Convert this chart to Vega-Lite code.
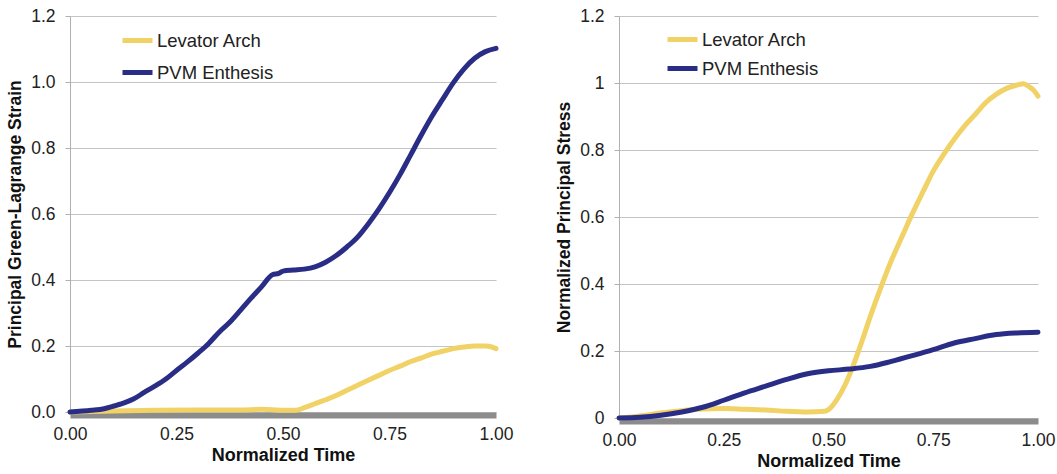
{
  "$schema": "https://vega.github.io/schema/vega-lite/v6.json",
  "padding": {"left": 6, "top": 7, "right": 0, "bottom": 0},
  "background": "white",
  "spacing": 41,
  "config": {
    "view": {"stroke": null},
    "font": "Liberation Sans",
    "axis": {"labelFont": "Liberation Sans", "titleFont": "Liberation Sans", "labelColor": "#222", "titleColor": "#111"}
  },
  "datasets": {
    "strain": [
      {"t": 0.0, "v": 0.0, "series": "Levator Arch"},
      {"t": 0.1, "v": 0.003, "series": "Levator Arch"},
      {"t": 0.2, "v": 0.005, "series": "Levator Arch"},
      {"t": 0.3, "v": 0.006, "series": "Levator Arch"},
      {"t": 0.4, "v": 0.006, "series": "Levator Arch"},
      {"t": 0.45, "v": 0.008, "series": "Levator Arch"},
      {"t": 0.5, "v": 0.005, "series": "Levator Arch"},
      {"t": 0.53, "v": 0.005, "series": "Levator Arch"},
      {"t": 0.55, "v": 0.013, "series": "Levator Arch"},
      {"t": 0.575, "v": 0.025, "series": "Levator Arch"},
      {"t": 0.6, "v": 0.037, "series": "Levator Arch"},
      {"t": 0.625, "v": 0.05, "series": "Levator Arch"},
      {"t": 0.65, "v": 0.066, "series": "Levator Arch"},
      {"t": 0.675, "v": 0.081, "series": "Levator Arch"},
      {"t": 0.7, "v": 0.096, "series": "Levator Arch"},
      {"t": 0.725, "v": 0.111, "series": "Levator Arch"},
      {"t": 0.75, "v": 0.126, "series": "Levator Arch"},
      {"t": 0.775, "v": 0.139, "series": "Levator Arch"},
      {"t": 0.8, "v": 0.153, "series": "Levator Arch"},
      {"t": 0.825, "v": 0.164, "series": "Levator Arch"},
      {"t": 0.85, "v": 0.176, "series": "Levator Arch"},
      {"t": 0.875, "v": 0.184, "series": "Levator Arch"},
      {"t": 0.9, "v": 0.192, "series": "Levator Arch"},
      {"t": 0.925, "v": 0.197, "series": "Levator Arch"},
      {"t": 0.95, "v": 0.2, "series": "Levator Arch"},
      {"t": 0.975, "v": 0.2, "series": "Levator Arch"},
      {"t": 0.99, "v": 0.197, "series": "Levator Arch"},
      {"t": 1.0, "v": 0.192, "series": "Levator Arch"},
      {"t": 0.0, "v": 0.0, "series": "PVM Enthesis"},
      {"t": 0.05, "v": 0.005, "series": "PVM Enthesis"},
      {"t": 0.08, "v": 0.01, "series": "PVM Enthesis"},
      {"t": 0.1, "v": 0.017, "series": "PVM Enthesis"},
      {"t": 0.125, "v": 0.027, "series": "PVM Enthesis"},
      {"t": 0.15, "v": 0.04, "series": "PVM Enthesis"},
      {"t": 0.175, "v": 0.06, "series": "PVM Enthesis"},
      {"t": 0.2, "v": 0.079, "series": "PVM Enthesis"},
      {"t": 0.225, "v": 0.1, "series": "PVM Enthesis"},
      {"t": 0.25, "v": 0.126, "series": "PVM Enthesis"},
      {"t": 0.275, "v": 0.151, "series": "PVM Enthesis"},
      {"t": 0.3, "v": 0.178, "series": "PVM Enthesis"},
      {"t": 0.325, "v": 0.207, "series": "PVM Enthesis"},
      {"t": 0.35, "v": 0.242, "series": "PVM Enthesis"},
      {"t": 0.375, "v": 0.272, "series": "PVM Enthesis"},
      {"t": 0.4, "v": 0.308, "series": "PVM Enthesis"},
      {"t": 0.425, "v": 0.345, "series": "PVM Enthesis"},
      {"t": 0.45, "v": 0.38, "series": "PVM Enthesis"},
      {"t": 0.475, "v": 0.416, "series": "PVM Enthesis"},
      {"t": 0.49, "v": 0.42, "series": "PVM Enthesis"},
      {"t": 0.5, "v": 0.427, "series": "PVM Enthesis"},
      {"t": 0.525, "v": 0.43, "series": "PVM Enthesis"},
      {"t": 0.55, "v": 0.433, "series": "PVM Enthesis"},
      {"t": 0.575, "v": 0.44, "series": "PVM Enthesis"},
      {"t": 0.6, "v": 0.454, "series": "PVM Enthesis"},
      {"t": 0.625, "v": 0.474, "series": "PVM Enthesis"},
      {"t": 0.65, "v": 0.5, "series": "PVM Enthesis"},
      {"t": 0.675, "v": 0.53, "series": "PVM Enthesis"},
      {"t": 0.7, "v": 0.57, "series": "PVM Enthesis"},
      {"t": 0.725, "v": 0.615, "series": "PVM Enthesis"},
      {"t": 0.75, "v": 0.665, "series": "PVM Enthesis"},
      {"t": 0.775, "v": 0.72, "series": "PVM Enthesis"},
      {"t": 0.8, "v": 0.78, "series": "PVM Enthesis"},
      {"t": 0.825, "v": 0.84, "series": "PVM Enthesis"},
      {"t": 0.85, "v": 0.897, "series": "PVM Enthesis"},
      {"t": 0.875, "v": 0.948, "series": "PVM Enthesis"},
      {"t": 0.9, "v": 0.998, "series": "PVM Enthesis"},
      {"t": 0.925, "v": 1.04, "series": "PVM Enthesis"},
      {"t": 0.95, "v": 1.072, "series": "PVM Enthesis"},
      {"t": 0.975, "v": 1.092, "series": "PVM Enthesis"},
      {"t": 1.0, "v": 1.102, "series": "PVM Enthesis"}
    ],
    "stress": [
      {"t": 0.0, "v": 0.0, "series": "Levator Arch"},
      {"t": 0.05, "v": 0.006, "series": "Levator Arch"},
      {"t": 0.1, "v": 0.015, "series": "Levator Arch"},
      {"t": 0.15, "v": 0.022, "series": "Levator Arch"},
      {"t": 0.2, "v": 0.027, "series": "Levator Arch"},
      {"t": 0.25, "v": 0.028, "series": "Levator Arch"},
      {"t": 0.3, "v": 0.026, "series": "Levator Arch"},
      {"t": 0.35, "v": 0.024, "series": "Levator Arch"},
      {"t": 0.4, "v": 0.02, "series": "Levator Arch"},
      {"t": 0.45, "v": 0.018, "series": "Levator Arch"},
      {"t": 0.49, "v": 0.02, "series": "Levator Arch"},
      {"t": 0.5, "v": 0.025, "series": "Levator Arch"},
      {"t": 0.52, "v": 0.055, "series": "Levator Arch"},
      {"t": 0.54, "v": 0.1, "series": "Levator Arch"},
      {"t": 0.56, "v": 0.16, "series": "Levator Arch"},
      {"t": 0.58, "v": 0.23, "series": "Levator Arch"},
      {"t": 0.6, "v": 0.304, "series": "Levator Arch"},
      {"t": 0.625, "v": 0.39, "series": "Levator Arch"},
      {"t": 0.65, "v": 0.47, "series": "Levator Arch"},
      {"t": 0.675, "v": 0.54, "series": "Levator Arch"},
      {"t": 0.7, "v": 0.61, "series": "Levator Arch"},
      {"t": 0.725, "v": 0.674, "series": "Levator Arch"},
      {"t": 0.75, "v": 0.737, "series": "Levator Arch"},
      {"t": 0.775, "v": 0.787, "series": "Levator Arch"},
      {"t": 0.8, "v": 0.832, "series": "Levator Arch"},
      {"t": 0.825, "v": 0.872, "series": "Levator Arch"},
      {"t": 0.85, "v": 0.906, "series": "Levator Arch"},
      {"t": 0.875, "v": 0.941, "series": "Levator Arch"},
      {"t": 0.9, "v": 0.966, "series": "Levator Arch"},
      {"t": 0.925, "v": 0.984, "series": "Levator Arch"},
      {"t": 0.95, "v": 0.994, "series": "Levator Arch"},
      {"t": 0.965, "v": 0.998, "series": "Levator Arch"},
      {"t": 0.98, "v": 0.988, "series": "Levator Arch"},
      {"t": 0.99, "v": 0.978, "series": "Levator Arch"},
      {"t": 1.0, "v": 0.961, "series": "Levator Arch"},
      {"t": 0.0, "v": 0.0, "series": "PVM Enthesis"},
      {"t": 0.05, "v": 0.002, "series": "PVM Enthesis"},
      {"t": 0.1, "v": 0.008, "series": "PVM Enthesis"},
      {"t": 0.15, "v": 0.018, "series": "PVM Enthesis"},
      {"t": 0.2, "v": 0.032, "series": "PVM Enthesis"},
      {"t": 0.25, "v": 0.053, "series": "PVM Enthesis"},
      {"t": 0.3, "v": 0.075, "series": "PVM Enthesis"},
      {"t": 0.35, "v": 0.095, "series": "PVM Enthesis"},
      {"t": 0.4, "v": 0.115, "series": "PVM Enthesis"},
      {"t": 0.45, "v": 0.132, "series": "PVM Enthesis"},
      {"t": 0.5, "v": 0.141, "series": "PVM Enthesis"},
      {"t": 0.55, "v": 0.146, "series": "PVM Enthesis"},
      {"t": 0.6, "v": 0.154, "series": "PVM Enthesis"},
      {"t": 0.65, "v": 0.169, "series": "PVM Enthesis"},
      {"t": 0.7, "v": 0.186, "series": "PVM Enthesis"},
      {"t": 0.75, "v": 0.204, "series": "PVM Enthesis"},
      {"t": 0.8, "v": 0.224, "series": "PVM Enthesis"},
      {"t": 0.85, "v": 0.237, "series": "PVM Enthesis"},
      {"t": 0.9, "v": 0.249, "series": "PVM Enthesis"},
      {"t": 0.95, "v": 0.254, "series": "PVM Enthesis"},
      {"t": 1.0, "v": 0.256, "series": "PVM Enthesis"}
    ]
  },
  "resolve": {"scale": {"color": "independent"}, "legend": {"color": "independent"}},
  "hconcat": [
    {
      "width": 426,
      "height": 396,
      "data": {"name": "strain"},
      "mark": {"type": "line", "strokeWidth": 5, "strokeCap": "round", "interpolate": "monotone"},
      "encoding": {
        "x": {"field": "t", "type": "quantitative", "scale": {"domain": [0, 1], "nice": false},
          "axis": {"title": "Normalized Time", "values": [0, 0.25, 0.5, 0.75, 1], "format": ".2f", "grid": false, "ticks": false,
            "domainColor": "#8c8c8c", "domainWidth": 6, "offset": 3, "labelFontSize": 17.5, "labelPadding": 10,
            "titleFontSize": 18, "titleFontWeight": "bold", "titlePadding": 4, "labelFlush": false}},
        "y": {"field": "v", "type": "quantitative", "scale": {"domain": [0, 1.2], "nice": false},
          "axis": {"title": "Principal Green-Lagrange Strain", "values": [0, 0.2, 0.4, 0.6, 0.8, 1.0, 1.2], "format": ".1f",
            "grid": true, "gridColor": "#c4c4c4", "gridWidth": 1, "domainColor": "#b0b0b0", "tickColor": "#b0b0b0", "tickSize": 5,
            "labelFontSize": 17.5, "labelPadding": 10, "titleFontSize": 17.5, "titleFontWeight": "bold", "titlePadding": 6, "labelFlush": false}},
        "color": {"field": "series", "type": "nominal",
          "scale": {"domain": ["Levator Arch", "PVM Enthesis"], "range": ["#f1d266", "#2a2d86"]},
          "legend": {"title": null, "orient": "none", "legendX": 50, "legendY": 7, "symbolType": "stroke", "symbolSize": 900,
            "symbolStrokeWidth": 5, "labelFontSize": 18.5, "labelColor": "#222", "rowPadding": 4, "labelOffset": 2}}
      }
    },
    {
      "width": 419,
      "height": 402,
      "data": {"name": "stress"},
      "mark": {"type": "line", "strokeWidth": 5, "strokeCap": "round", "interpolate": "monotone"},
      "encoding": {
        "x": {"field": "t", "type": "quantitative", "scale": {"domain": [0, 1], "nice": false},
          "axis": {"title": "Normalized Time", "values": [0, 0.25, 0.5, 0.75, 1], "format": ".2f", "grid": false, "ticks": false,
            "domainColor": "#8c8c8c", "domainWidth": 6, "offset": 3, "labelFontSize": 17.5, "labelPadding": 10,
            "titleFontSize": 18, "titleFontWeight": "bold", "titlePadding": 4, "labelFlush": false}},
        "y": {"field": "v", "type": "quantitative", "scale": {"domain": [0, 1.2], "nice": false},
          "axis": {"title": "Normalized Principal Stress", "values": [0, 0.2, 0.4, 0.6, 0.8, 1.0, 1.2], "format": "~g",
            "grid": true, "gridColor": "#c4c4c4", "gridWidth": 1, "domainColor": "#b0b0b0", "tickColor": "#b0b0b0", "tickSize": 5,
            "labelFontSize": 17.5, "labelPadding": 10, "titleFontSize": 17.5, "titleFontWeight": "bold", "titlePadding": 6, "labelFlush": false}},
        "color": {"field": "series", "type": "nominal",
          "scale": {"domain": ["Levator Arch", "PVM Enthesis"], "range": ["#f1d266", "#2a2d86"]},
          "legend": {"title": null, "orient": "none", "legendX": 46, "legendY": 6, "symbolType": "stroke", "symbolSize": 900,
            "symbolStrokeWidth": 5, "labelFontSize": 18.5, "labelColor": "#222", "rowPadding": 1, "labelOffset": 2}}
      }
    }
  ]
}
